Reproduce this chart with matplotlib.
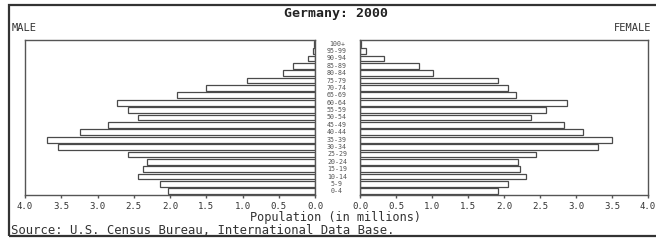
import matplotlib
matplotlib.use("Agg")
import matplotlib.pyplot as plt
from matplotlib.patches import Rectangle
import numpy as np

W, H = 656, 240

ages = ["0-4", "5-9", "10-14", "15-19", "20-24", "25-29", "30-34", "35-39",
        "40-44", "45-49", "50-54", "55-59", "60-64", "65-69", "70-74",
        "75-79", "80-84", "85-89", "90-94", "95-99", "100+"]
male = [2.03, 2.14, 2.44, 2.37, 2.32, 2.58, 3.55, 3.70, 3.24, 2.85, 2.44,
        2.58, 2.73, 1.90, 1.50, 0.94, 0.44, 0.30, 0.10, 0.03, 0.01]
female = [1.92, 2.06, 2.31, 2.22, 2.20, 2.45, 3.31, 3.50, 3.10, 2.83, 2.38,
          2.59, 2.87, 2.17, 2.06, 1.92, 1.02, 0.82, 0.33, 0.08, 0.01]
ticks = [0.0, 0.5, 1.0, 1.5, 2.0, 2.5, 3.0, 3.5, 4.0]
tick_labels = ["0.0", "0.5", "1.0", "1.5", "2.0", "2.5", "3.0", "3.5", "4.0"]

MONO = "DejaVu Sans Mono"
EDGE = "#4a4a4a"


def fx(px):
    return px / W


def fy(py):
    return 1 - py / H


fig = plt.figure(figsize=(W / 100, H / 100), dpi=100)
fig.patch.set_facecolor("white")

bottom = fy(195)
height = (195 - 40) / H
ax_m = fig.add_axes([fx(25), bottom, (315 - 25) / W, height])
ax_f = fig.add_axes([fx(360), bottom, (648 - 360) / W, height])

y = np.arange(len(ages))
ax_m.barh(y, male, height=0.78, color="white", edgecolor=EDGE, linewidth=0.9)
ax_f.barh(y, female, height=0.78, color="white", edgecolor=EDGE, linewidth=0.9)

ax_m.set_xlim(4.0, 0.0)
ax_f.set_xlim(0.0, 4.0)
for ax in (ax_m, ax_f):
    ax.set_ylim(-0.5, len(ages) - 0.5)
    ax.set_yticks([])
    ax.set_xticks(ticks)
    ax.set_xticklabels(tick_labels, fontsize=6.5, family=MONO, color="#333333")
    ax.tick_params(axis="x", length=2, width=1, color="#555555", pad=3)
    for s in ax.spines.values():
        s.set_color("#555555")
        s.set_linewidth(1.0)

# age labels in the middle column
for i, a in enumerate(ages):
    yy = 195 - (i + 0.5) * (155 / len(ages))
    fig.text(fx(337), fy(yy), a, ha="center", va="center", fontsize=4.8,
             family=MONO, color="#555555")

fig.text(fx(336), fy(14), "Germany: 2000", ha="center", va="center",
         fontsize=9.5, family=MONO, fontweight="bold", color="#222222")
fig.text(fx(12), fy(28), "MALE", ha="left", va="center", fontsize=7.5,
         family=MONO, color="#333333")
fig.text(fx(614), fy(28), "FEMALE", ha="left", va="center", fontsize=7.5,
         family=MONO, color="#333333")
fig.text(fx(336), fy(217.5), "Population (in millions)", ha="center",
         va="center", fontsize=8.6, family=MONO, color="#333333")
fig.text(fx(11), fy(230.5), "Source: U.S. Census Bureau, International Data Base.",
         ha="left", va="center", fontsize=8.8, family=MONO, color="#333333")

# outer border
fig.patches.append(Rectangle((fx(9), fy(236)), (670 - 9) / W, (236 - 5) / H,
                             transform=fig.transFigure, fill=False,
                             edgecolor="#333333", linewidth=1.6))

fig.savefig("out.png", dpi=100)
